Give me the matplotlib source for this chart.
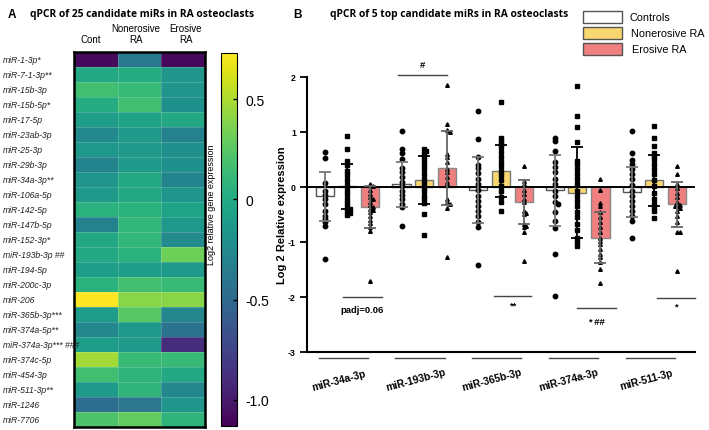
import numpy as np
import matplotlib
matplotlib.use('Agg')
import matplotlib.pyplot as plt
from matplotlib.patches import Rectangle

# ---------------- Panel A data ----------------
mirs = ['miR-1-3p*', 'miR-7-1-3p**', 'miR-15b-3p', 'miR-15b-5p*', 'miR-17-5p',
        'miR-23ab-3p', 'miR-25-3p', 'miR-29b-3p', 'miR-34a-3p**', 'miR-106a-5p',
        'miR-142-5p', 'miR-147b-5p', 'miR-152-3p*', 'miR-193b-3p ##', 'miR-194-5p',
        'miR-200c-3p', 'miR-206', 'miR-365b-3p***', 'miR-374a-5p**', 'miR-374a-3p*** ###',
        'miR-374c-5p', 'miR-454-3p', 'miR-511-3p**', 'miR-1246', 'miR-7706']
heat_cols = ['Cont', 'Nonerosive\nRA', 'Erosive\nRA']
heat_cont = [-1.08, -0.01, 0.17, 0.02, -0.09, -0.24, -0.14, -0.29, -0.16, -0.13,
             0.06, -0.31, -0.01, -0.01, -0.09, 0.06, 0.73, -0.11, -0.27, -0.09,
             0.47, 0.17, -0.13, -0.46, 0.21]
heat_non = [-0.38, 0.02, 0.13, 0.17, -0.05, -0.13, -0.13, -0.13, -0.01, -0.01,
            0.06, 0.10, 0.10, 0.06, -0.09, 0.17, 0.40, 0.25, -0.14, -0.13,
            0.13, 0.08, 0.08, -0.39, 0.28]
heat_ero = [-1.08, -0.16, -0.16, -0.20, -0.01, -0.31, -0.20, -0.20, -0.29, -0.16,
            -0.05, -0.14, -0.24, 0.32, -0.13, 0.13, 0.40, -0.27, -0.42, -0.89,
            0.13, -0.01, -0.27, -0.16, 0.08]
cbar_ticks = [0.5, 0.0, -0.5, -1.0]
cbar_ticklabels = ['0.5', '0', '-0.5', '-1.0']

# ---------------- Panel B data ----------------
groups = ['miR-34a-3p', 'miR-193b-3p', 'miR-365b-3p', 'miR-374a-3p', 'miR-511-3p']
series = ['Controls', 'Nonerosive RA', 'Erosive RA']
mean_ctrl = [-0.17, 0.05, -0.05, -0.06, -0.09]
mean_non = [0.01, 0.13, 0.29, -0.10, 0.12]
mean_ero = [-0.37, 0.35, -0.27, -0.92, -0.31]
sd_ctrl = [0.44, 0.41, 0.60, 0.65, 0.46]
sd_non = [0.41, 0.43, 0.48, 0.82, 0.46]
sd_ero = [0.38, 0.67, 0.40, 0.47, 0.41]

pts_ctrl = [
    [0.64, 0.52, 0.07, -0.07, -0.15, -0.22, -0.31, -0.43, -0.52, -0.58, -0.63, -0.70, -1.31],
    [1.02, 0.70, 0.62, 0.51, 0.35, 0.27, 0.19, 0.10, 0.01, -0.07, -0.15, -0.22, -0.31, -0.37, -0.70],
    [1.39, 0.87, 0.54, 0.40, 0.34, 0.25, 0.15, 0.05, -0.05, -0.16, -0.25, -0.34, -0.43, -0.52, -0.64, -0.72, -1.41],
    [0.90, 0.84, 0.66, 0.45, 0.36, 0.27, 0.15, 0.05, -0.07, -0.16, -0.28, -0.31, -0.46, -0.61, -0.75, -1.22, -1.99],
    [1.02, 0.62, 0.49, 0.42, 0.33, 0.24, 0.15, 0.04, -0.07, -0.16, -0.25, -0.34, -0.43, -0.52, -0.61, -0.93],
]
pts_non = [
    [0.92, 0.69, 0.48, 0.40, 0.30, 0.21, 0.13, 0.04, -0.05, -0.13, -0.22, -0.29, -0.36, -0.40, -0.44, -0.48, -0.51],
    [0.70, 0.66, 0.60, 0.54, 0.48, 0.40, 0.33, 0.24, 0.15, 0.07, 0.00, -0.08, -0.16, -0.22, -0.29, -0.49, -0.87],
    [1.54, 0.89, 0.84, 0.78, 0.72, 0.63, 0.54, 0.45, 0.39, 0.30, 0.21, 0.12, 0.02, -0.07, -0.19, -0.28, -0.43],
    [1.84, 1.30, 1.10, 0.82, 0.48, 0.42, 0.33, 0.24, 0.15, 0.05, -0.07, -0.16, -0.25, -0.34, -0.46, -0.55, -0.67, -0.79, -0.93, -1.00, -1.08],
    [1.11, 0.89, 0.75, 0.62, 0.57, 0.51, 0.42, 0.33, 0.24, 0.12, 0.01, -0.10, -0.22, -0.31, -0.37, -0.43, -0.56],
]
pts_ero = [
    [0.05, 0.02, -0.05, -0.12, -0.18, -0.22, -0.27, -0.33, -0.37, -0.40, -0.42, -0.45, -0.52, -0.60, -0.65, -0.72, -0.80, -1.70],
    [1.85, 1.15, 1.04, 1.00, 0.60, 0.54, 0.45, 0.33, 0.28, 0.18, 0.10, 0.05, -0.22, -0.27, -0.30, -0.38, -1.28],
    [0.38, 0.11, 0.05, -0.05, -0.12, -0.21, -0.27, -0.43, -0.47, -0.49, -0.67, -0.70, -0.73, -0.81, -1.34],
    [0.15, -0.05, -0.29, -0.35, -0.46, -0.55, -0.64, -0.73, -0.82, -0.93, -0.98, -1.04, -1.13, -1.22, -1.28, -1.37, -1.49, -1.75],
    [0.39, 0.24, 0.05, -0.02, -0.10, -0.19, -0.28, -0.32, -0.35, -0.35, -0.38, -0.43, -0.52, -0.64, -0.81, -0.81, -1.52],
]
# significance annotations
sig_group = [0, 1, 2, 3, 4]
sig_text = ['padj=0.06', '#', '**', '* ##', '*']
sig_line_y = [-2.0, 2.04, -1.98, -2.2, -2.02]
sig_text_y = [-2.22, 2.22, -2.15, -2.44, -2.16]
sig_x0 = [-0.05, -0.33, -0.09, 0.00, 0.04]
sig_x1 = [0.45, 0.30, 0.40, 0.50, 0.53]

W, H = 709, 431
fig = plt.figure(figsize=(W / 100, H / 100), dpi=100)
SANS = ['Liberation Sans', 'DejaVu Sans']

def fx(px):
    return px / W

def fy(py):
    return 1 - py / H

# ---------------- Panel A ----------------
axA = fig.add_axes([fx(74), fy(428), fx(205) - fx(74), fy(53) - fy(428)])
heat = np.column_stack([heat_cont, heat_non, heat_ero])
im = axA.imshow(heat, cmap='viridis', vmin=-1.13, vmax=0.73, aspect='auto',
                interpolation='nearest')
for i in range(1, len(mirs)):
    axA.axhline(i - 0.5, color='white', lw=0.5, alpha=0.25)
for j in range(1, 3):
    axA.axvline(j - 0.5, color='white', lw=0.5, alpha=0.25)
axA.set_xticks([])
axA.set_yticks([])
for s in axA.spines.values():
    s.set_linewidth(1.8)
    s.set_color('black')

for i, name in enumerate(mirs):
    yc = 53 + (i + 0.5) * 15
    fig.text(fx(3), fy(yc), name, ha='left', va='center', fontsize=6.2,
             style='italic', family=SANS, color='#222222')

col_x = [91, 136, 186]
for x, lab in zip(col_x, heat_cols):
    fig.text(fx(x), fy(45), lab, ha='center', va='bottom', fontsize=7,
             family=SANS, linespacing=1.15)

cax = fig.add_axes([fx(221), fy(427), fx(237) - fx(221), fy(54) - fy(427)])
cb = fig.colorbar(im, cax=cax)
cb.set_ticks(cbar_ticks)
cb.set_ticklabels(cbar_ticklabels)
cb.outline.set_linewidth(0.8)
cax.tick_params(direction='in', length=3, width=1, labelsize=10, pad=6)
for t in cax.get_yticklabels():
    t.set_family(['Liberation Sans Narrow', 'Liberation Sans', 'DejaVu Sans'])
fig.text(fx(212), fy(205), 'Log2 relative gene expression', rotation=90,
         ha='center', va='center', fontsize=6.5, family=SANS)

fig.text(fx(8), fy(15), 'A', fontsize=8.5, fontweight='bold', ha='left', va='center', family=SANS)
fig.text(fx(30), fy(14), 'qPCR of 25 candidate miRs in RA osteoclasts', fontsize=7.4,
         fontweight='bold', ha='left', va='center', family=['Open Sans', 'DejaVu Sans'])

# ---------------- Panel B ----------------
axB = fig.add_axes([fx(307), fy(353), fx(695) - fx(307), fy(78) - fy(353)])
axB.set_xlim(-0.52, 4.53)
axB.set_ylim(-3, 2)
xg = np.arange(len(groups))
offs = [-0.29, 0.0, 0.30]
bw = 0.235
face = ['white', '#F9D770', '#F08080']
edge = ['#555555', '#777777', '#888888']
ecol = ['#777777', 'black', '#666666']
markers = ['o', 's', '^']
msz = [3.2, 3.2, 2.6]
means = [mean_ctrl, mean_non, mean_ero]
sds = [sd_ctrl, sd_non, sd_ero]
pts = [pts_ctrl, pts_non, pts_ero]


def swarm(vals, dx=0.035, dy=0.045):
    placed = []
    xs = []
    cand = [0, dx, -dx, 2 * dx, -2 * dx, 3 * dx, -3 * dx]
    for v in vals:
        for off in cand:
            ok = all(abs(v - pv) >= dy or abs(off - po) >= dx * 0.99 for pv, po in placed)
            if ok:
                break
        placed.append((v, off))
        xs.append(off)
    return np.array(xs)


for k in range(3):
    axB.bar(xg + offs[k], means[k], width=bw, color=face[k], edgecolor=edge[k],
            linewidth=1.0, zorder=2)
for k in range(3):
    for g in range(len(groups)):
        v = np.array(pts[k][g])
        jx = swarm(v)
        axB.plot(xg[g] + offs[k] + jx, v, linestyle='none', marker=markers[k],
                 markersize=msz[k], color='black', zorder=4)
    axB.errorbar(xg + offs[k], means[k], yerr=sds[k], fmt='none', ecolor=ecol[k],
                 elinewidth=1.3, capsize=4, capthick=1.3, zorder=5)

axB.axhline(0, color='black', lw=1.4, zorder=3)
axB.spines['top'].set_visible(False)
axB.spines['right'].set_visible(False)
axB.spines['left'].set_linewidth(1.5)
axB.spines['bottom'].set_linewidth(1.5)
axB.set_xticks([])
axB.set_yticks([2, 1, 0, -1, -2, -3])
axB.set_yticklabels(['2', '1', '0', '-1', '-2', '-3'])
axB.tick_params(axis='y', length=5, width=1.3, labelsize=6.3, pad=3)
for t in axB.get_yticklabels():
    t.set_fontweight('bold')
    t.set_family(SANS)
axB.set_ylabel('Log 2 Relative expression', fontsize=8, fontweight='bold',
               family=SANS, labelpad=1)

for g, name in enumerate(groups):
    axB.plot([xg[g] - 0.37, xg[g] + 0.27], [-3.11, -3.11], color='#444444', lw=1,
             clip_on=False)
    axB.text(xg[g] - 0.11, -3.5, name, rotation=15, ha='center', va='center',
             fontsize=7.4, fontweight='bold', family=SANS)

for g, t, ly, ty, a, b in zip(sig_group, sig_text, sig_line_y, sig_text_y, sig_x0, sig_x1):
    axB.plot([xg[g] + a, xg[g] + b], [ly, ly], color='#444444', lw=1, clip_on=False)
    axB.text(xg[g] + (a + b) / 2, ty, t, ha='center', va='center', fontsize=6.8,
             fontweight='bold', family=SANS, clip_on=False)

fig.text(fx(293), fy(15), 'B', fontsize=8.5, fontweight='bold', ha='left', va='center', family=SANS)
fig.text(fx(330), fy(14), 'qPCR of 5 top candidate miRs in RA osteoclasts', fontsize=7.4,
         fontweight='bold', ha='left', va='center', family=['Open Sans', 'DejaVu Sans'])

# legend (manual, in figure pixels)
leg_y = [18, 34, 50]
leg_tx = [629, 631, 632]
for k in range(3):
    fig.patches.append(Rectangle((fx(583), fy(leg_y[k] + 6)), fx(622) - fx(583), fy(leg_y[k] - 6) - fy(leg_y[k] + 6),
                                 transform=fig.transFigure, facecolor=face[k],
                                 edgecolor='#555555', linewidth=1.0))
    fig.text(fx(leg_tx[k]), fy(leg_y[k]), series[k], ha='left', va='center', fontsize=7.8,
             family=SANS)

fig.savefig('out.png', dpi=100)
